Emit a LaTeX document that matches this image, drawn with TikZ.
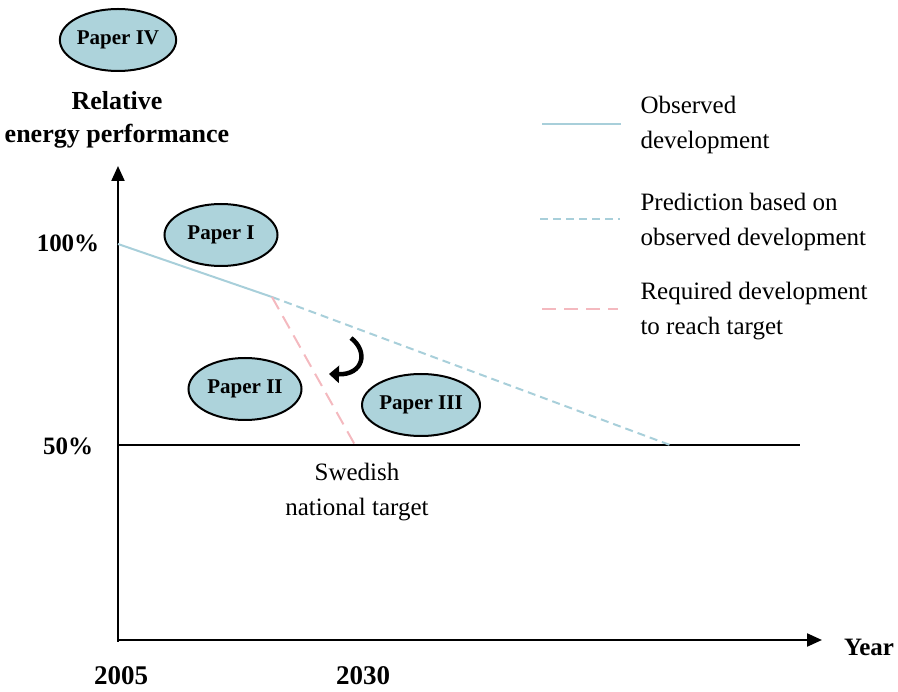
\documentclass[tikz,border=0pt]{standalone}
\usepackage{fontspec}
\setmainfont{Liberation Serif}
\usetikzlibrary{arrows.meta,shapes.geometric}
\definecolor{obsblue}{HTML}{A8CFDA}
\definecolor{paperfill}{HTML}{ADD3DB}
\definecolor{reqpink}{HTML}{F4B9BF}
\tikzset{
  paper/.style={ellipse,draw=black,line width=2pt,fill=paperfill,minimum width=113pt,minimum height=62pt,inner sep=0pt,font=\fontsize{21}{24}\selectfont\bfseries},
  lbl/.style={font=\fontsize{25}{35}\selectfont,align=left,anchor=west},
  blbl/.style={font=\fontsize{25}{33}\selectfont\bfseries,align=center},
  axis/.style={line width=2.2pt,-{Triangle[length=15pt,width=13pt]}},
  obsline/.style={obsblue,line width=2pt},
  predline/.style={obsblue,line width=2pt,dash pattern=on 8pt off 5pt},
  reqline/.style={reqpink,line width=2pt,dash pattern=on 14pt off 8pt},
}
\begin{document}
\begin{tikzpicture}[x=1pt,y=-1pt]
\useasboundingbox (0,0) rectangle (898,692);
% axes
\coordinate (O) at (118,642);
\coordinate (ytop) at (118,166);
\coordinate (xend) at (822,640);
\draw[axis] (O) -- (ytop);
\draw[axis] (118,640) -- (xend);
% 50% line
\coordinate (t0) at (118,445);
\coordinate (t1) at (800,445);
\draw[line width=2pt] (t0) -- (t1);
% development lines
\coordinate (p100) at (118,244);
\coordinate (brk) at (272,297);
\coordinate (pend) at (670,445);
\coordinate (rend) at (355,445);
\draw[obsline] (p100) -- (brk);
\draw[predline] (brk) -- (pend);
\draw[reqline] (brk) -- (rend);
% curved arrow
\coordinate (ca) at (351,338);
\coordinate (cb) at (329,374);
\draw[line width=4.5pt,-{Triangle[length=10pt,width=17pt]}] (ca) .. controls (369,352) and (363,375) .. (cb);
% papers
\node[paper] (p4) at (118,40) {Paper IV};
\node[paper] (p1) at (221,235) {Paper I};
\node[paper] (p2) at (245,389) {Paper II};
\node[paper] (p3) at (421,405) {Paper III};
% axis labels
\node[blbl,font=\fontsize{26}{33}\selectfont\bfseries] (ylab) at (117,120) {Relative\\energy performance};
\node[blbl] (xlab) at (869,647) {Year};
\node[blbl] (y100) at (68,243) {100\%};
\node[blbl] (y50) at (68,446) {50\%};
\node[blbl,font=\fontsize{27}{33}\selectfont\bfseries] (x2005) at (121,676) {2005};
\node[blbl,font=\fontsize{27}{33}\selectfont\bfseries] (x2030) at (363,676) {2030};
\node[lbl,anchor=center,align=center] (swe) at (357,492) {Swedish\\national target};
% legend
\coordinate (l1a) at (542,124); \coordinate (l1b) at (621,124);
\coordinate (l2a) at (540,219); \coordinate (l2b) at (620,219);
\coordinate (l3a) at (542,309); \coordinate (l3b) at (618,309);
\draw[obsline] (l1a) -- (l1b);
\draw[predline] (l2a) -- (l2b);
\draw[reqline] (l3a) -- (l3b);
\node[lbl] (t1l) at (637,125) {Observed\\development};
\node[lbl] (t2l) at (637,222) {Prediction based on\\observed development};
\node[lbl] (t3l) at (637,311) {Required development\\to reach target};
\end{tikzpicture}
\end{document}
